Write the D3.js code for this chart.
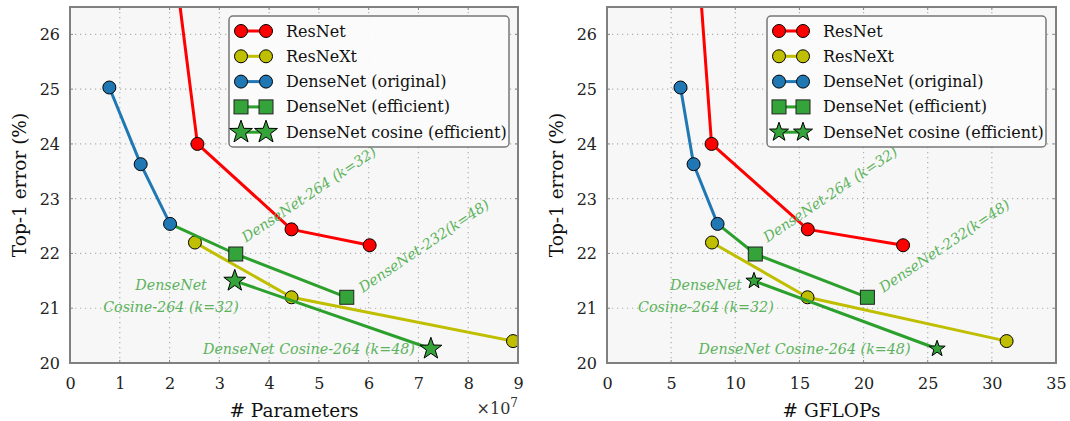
<!DOCTYPE html>
<html>
<head>
<meta charset="utf-8">
<script src="https://cdn.jsdelivr.net/npm/d3@7"></script>
<style>
  html, body { margin: 0; padding: 0; background: #ffffff; }
  svg { display: block; }
  text { font-family: "DejaVu Serif", serif; fill: #222; }
</style>
</head>
<body>
<svg id="chart" width="1070" height="421"></svg>
<script>
// ---------------- data ----------------
const yTicks = [20, 21, 22, 23, 24, 25, 26];
const paramTicks = [0, 1, 2, 3, 4, 5, 6, 7, 8, 9];
const flopTicks = [0, 5, 10, 15, 20, 25, 30, 35];

const seriesNames = ["ResNet", "ResNeXt", "DenseNet (original)", "DenseNet (efficient)", "DenseNet cosine (efficient)"];

// ResNet-34, -50, -101, -152
const resnetParams = [2.18, 2.56, 4.45, 6.02];   // x 1e7
const resnetFlops  = [7.30, 8.15, 15.65, 23.08];
const resnetErr    = [26.73, 24.00, 22.44, 22.15];

const resnextParams = [2.51, 4.45, 8.90];
const resnextFlops  = [8.18, 15.63, 31.15];
const resnextErr    = [22.20, 21.20, 20.40];

const densenetParams = [0.79, 1.42, 2.01];
const densenetFlops  = [5.73, 6.75, 8.62];
const densenetErr    = [25.03, 23.63, 22.54];

// efficient DenseNet line starts at the last original DenseNet point (no marker there)
const effParams = [2.01, 3.33, 5.56];
const effFlops  = [8.62, 11.56, 20.30];
const effErr    = [22.54, 21.99, 21.20];
const effMarked = [false, true, true];

const cosParams = [3.31, 7.25];
const cosFlops  = [11.46, 25.73];
const cosErr    = [21.50, 20.26];

const annotationTexts = ["DenseNet-264 (k=32)", "DenseNet-232(k=48)", "DenseNet", "Cosine-264 (k=32)", "DenseNet Cosine-264 (k=48)"];
// annotation anchors in data units per panel
const annParamsX = [4.80, 7.11, 2.03, 2.03, 4.80];
const annFlopsX  = [17.40, 26.30, 7.71, 7.71, 15.40];
const annErrY    = [23.08, 22.14, 21.42, 21.02, 20.26];
const annRotate  = [-34, -34, 0, 0, 0];

// ---------------- styling ----------------
const colors = { resnet: "#ff0000", resnext: "#bfbf00", densenet: "#1f77b4", green: "#2ca02c", ann: "#5cb35c" };

const svg = d3.select("#chart");

function makeRows(xs, ys) { return xs.map((x, i) => ({ x: x, y: ys[i], i: i })); }

function starPath(r) {
  const pts = [];
  for (let k = 0; k < 10; k++) {
    const rr = k % 2 === 0 ? r : r * 0.4;
    const a = -Math.PI / 2 + k * Math.PI / 5;
    pts.push([rr * Math.cos(a), rr * Math.sin(a)]);
  }
  return "M" + pts.map(p => p[0].toFixed(2) + "," + p[1].toFixed(2)).join("L") + "Z";
}

function drawMarker(g, type, cx, cy, fill, size) {
  if (type === "circle") {
    g.append("circle").attr("cx", cx).attr("cy", cy).attr("r", 6.5)
      .attr("fill", fill).attr("stroke", "#000").attr("stroke-width", 1);
  } else if (type === "square") {
    const s = 14;
    g.append("rect").attr("x", cx - s / 2).attr("y", cy - s / 2).attr("width", s).attr("height", s)
      .attr("fill", fill).attr("stroke", "#222").attr("stroke-width", 1);
  } else if (type === "star") {
    g.append("path").attr("d", starPath(size)).attr("transform", `translate(${cx},${cy})`)
      .attr("fill", fill).attr("stroke", "#000").attr("stroke-width", 1);
  }
}

function panel(cfg) {
  const { left, right, top, bottom } = cfg;
  const x = d3.scaleLinear().domain(cfg.xDomain).range([left, right]);
  const y = d3.scaleLinear().domain([20, 26.5]).range([bottom, top]);
  const g = svg.append("g");

  // background
  g.append("rect").attr("x", left).attr("y", top).attr("width", right - left).attr("height", bottom - top)
    .attr("fill", "#f7f7f7");

  // grid
  const grid = g.append("g").attr("stroke", "#b0b0b0").attr("stroke-width", 1.2).attr("stroke-dasharray", "1.2,3.8");
  cfg.xTicks.forEach(t => {
    grid.append("line").attr("x1", x(t)).attr("x2", x(t)).attr("y1", top).attr("y2", bottom);
  });
  yTicks.forEach(t => {
    grid.append("line").attr("x1", left).attr("x2", right).attr("y1", y(t)).attr("y2", y(t));
  });

  // axes (tick labels)
  const xAxis = d3.axisBottom(x).tickValues(cfg.xTicks).tickSize(0).tickPadding(0).tickFormat(d3.format("d"));
  const xa = g.append("g").attr("transform", `translate(0,${bottom})`).call(xAxis);
  xa.select(".domain").remove();
  xa.selectAll("text").attr("font-family", "DejaVu Serif").attr("font-size", 16).attr("fill", "#333")
    .attr("dy", null).attr("y", 20).attr("dominant-baseline", "central");

  const yAxis = d3.axisLeft(y).tickValues(yTicks).tickSize(0).tickPadding(10).tickFormat(d3.format("d"));
  const ya = g.append("g").attr("transform", `translate(${left},0)`).call(yAxis);
  ya.select(".domain").remove();
  ya.selectAll("text").attr("font-family", "DejaVu Serif").attr("font-size", 16).attr("fill", "#333")
    .attr("dy", null).attr("dominant-baseline", "central");

  // small inner ticks
  const tk = g.append("g").attr("stroke", "#888").attr("stroke-width", 1);
  cfg.xTicks.forEach(t => {
    tk.append("line").attr("x1", x(t)).attr("x2", x(t)).attr("y1", bottom).attr("y2", bottom - 3);
    tk.append("line").attr("x1", x(t)).attr("x2", x(t)).attr("y1", top).attr("y2", top + 3);
  });
  yTicks.forEach(t => {
    tk.append("line").attr("x1", left).attr("x2", left + 3).attr("y1", y(t)).attr("y2", y(t));
    tk.append("line").attr("x1", right).attr("x2", right - 3).attr("y1", y(t)).attr("y2", y(t));
  });

  // clip
  const clipId = "clip" + cfg.id;
  svg.append("clipPath").attr("id", clipId).append("rect")
    .attr("x", left).attr("y", top).attr("width", right - left).attr("height", bottom - top);
  const plot = g.append("g").attr("clip-path", `url(#${clipId})`);

  const line = d3.line().x(d => x(d.x)).y(d => y(d.y));
  const lw = 3;

  function series(rows, color, marker, markerFill, markedFlags, starSize) {
    plot.append("path").datum(rows).attr("d", line).attr("fill", "none")
      .attr("stroke", color).attr("stroke-width", lw).attr("stroke-linejoin", "round");
    rows.forEach((d, i) => {
      if (markedFlags && !markedFlags[i]) return;
      drawMarker(plot, marker, x(d.x), y(d.y), markerFill, starSize);
    });
  }

  // annotations (under lines)
  const ann = g.append("g");
  annotationTexts.forEach((t, i) => {
    const ax = x(cfg.annX[i]), ay = y(annErrY[i]);
    ann.append("text").text(t)
      .attr("transform", `translate(${ax},${ay}) rotate(${annRotate[i]})`)
      .attr("text-anchor", "middle").attr("dominant-baseline", "central")
      .attr("font-family", "DejaVu Serif").attr("font-style", "italic")
      .attr("font-size", 14.3).style("fill", colors.ann);
  });

  series(makeRows(cfg.resnetX, resnetErr), colors.resnet, "circle", colors.resnet);
  series(makeRows(cfg.resnextX, resnextErr), colors.resnext, "circle", colors.resnext);
  series(makeRows(cfg.effX, effErr), colors.green, "square", "#33a33a", effMarked);
  series(makeRows(cfg.densenetX, densenetErr), colors.densenet, "circle", colors.densenet);
  series(makeRows(cfg.cosX, cosErr), colors.green, "star", "#33a33a", null, cfg.starSize);

  // frame
  g.append("rect").attr("x", left).attr("y", top).attr("width", right - left).attr("height", bottom - top)
    .attr("fill", "none").attr("stroke", "#808080").attr("stroke-width", 2);

  // axis labels
  g.append("text").text("Top-1 error (%)")
    .attr("transform", `translate(${left - 51},${(top + bottom) / 2}) rotate(-90)`)
    .attr("text-anchor", "middle").attr("dominant-baseline", "central")
    .attr("font-size", 18.5).style("fill", "#111");
  g.append("text").text(cfg.xLabel)
    .attr("x", (left + right) / 2).attr("y", 410)
    .attr("text-anchor", "middle").attr("dominant-baseline", "central")
    .attr("font-size", 18.5).style("fill", "#111");
  if (cfg.multiplier) {
    const m = g.append("text").attr("x", right).attr("y", 414)
      .attr("text-anchor", "end").attr("font-size", 16).style("fill", "#333");
    m.append("tspan").text("×10");
    m.append("tspan").text(cfg.multiplier).attr("dy", -7).attr("font-size", 12);
  }

  // legend
  const L = cfg.legend;
  const lg = g.append("g");
  lg.append("rect").attr("x", L.x).attr("y", L.y).attr("width", L.w).attr("height", L.h)
    .attr("rx", 4).attr("fill", "#fbfbfb").attr("fill-opacity", 0.95)
    .attr("stroke", "#777").attr("stroke-width", 1.5);
  const items = [
    { c: colors.resnet, m: "circle", f: colors.resnet },
    { c: colors.resnext, m: "circle", f: colors.resnext },
    { c: colors.densenet, m: "circle", f: colors.densenet },
    { c: colors.green, m: "square", f: "#33a33a" },
    { c: colors.green, m: "star", f: "#33a33a" }
  ];
  items.forEach((it, i) => {
    const cy = L.y + 15 + i * 25.3;
    lg.append("line").attr("x1", L.m1).attr("x2", L.m2).attr("y1", cy).attr("y2", cy)
      .attr("stroke", it.c).attr("stroke-width", lw);
    const ss = it.m === "star" ? cfg.legendStar : 0;
    drawMarker(lg, it.m, L.m1, cy, it.f, ss);
    drawMarker(lg, it.m, L.m2, cy, it.f, ss);
    lg.append("text").text(seriesNames[i]).attr("x", L.tx).attr("y", cy)
      .attr("dominant-baseline", "central").attr("font-size", 16).style("fill", "#111");
  });
}

panel({
  id: "a", left: 70, right: 518, top: 7, bottom: 363,
  xDomain: [0, 9], xTicks: paramTicks, xLabel: "# Parameters", multiplier: "7",
  resnetX: resnetParams, resnextX: resnextParams, densenetX: densenetParams, effX: effParams, cosX: cosParams,
  annX: annParamsX, starSize: 11.5, legendStar: 12,
  legend: { x: 229, y: 16, w: 280, h: 131, m1: 241, m2: 266, tx: 286 }
});

panel({
  id: "b", left: 607, right: 1056, top: 7, bottom: 363,
  xDomain: [0, 35], xTicks: flopTicks, xLabel: "# GFLOPs", multiplier: null,
  resnetX: resnetFlops, resnextX: resnextFlops, densenetX: densenetFlops, effX: effFlops, cosX: cosFlops,
  annX: annFlopsX, starSize: 8.5, legendStar: 10,
  legend: { x: 767, y: 16, w: 279, h: 131, m1: 779, m2: 803, tx: 823 }
});
</script>
</body>
</html>
